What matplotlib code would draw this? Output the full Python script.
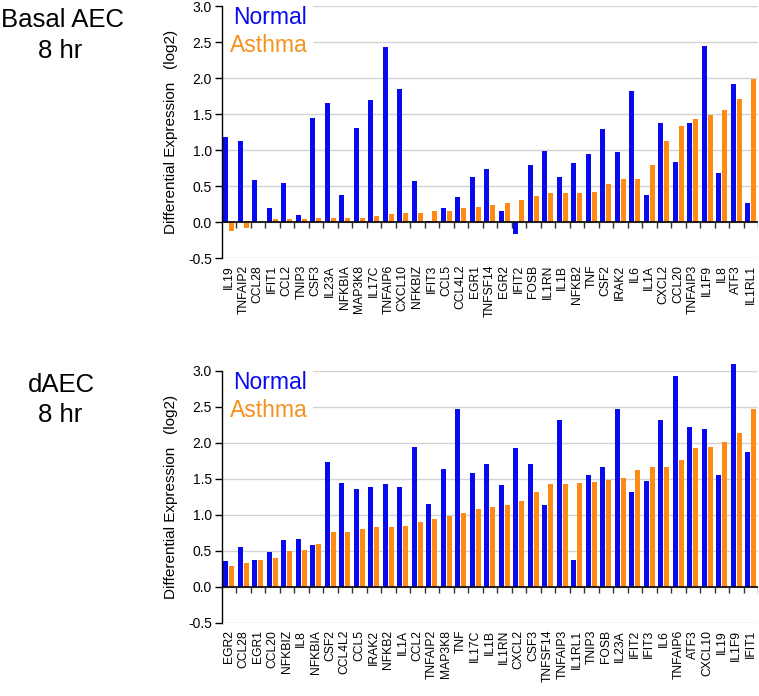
import matplotlib
matplotlib.use('Agg')
import matplotlib.pyplot as plt
import matplotlib.transforms as mtransforms
from matplotlib.patches import Rectangle
import numpy as np

plt.rcParams['font.family'] = ['Liberation Sans', 'DejaVu Sans']

# ---------------- data ----------------
basal_genes = ["IL19", "TNFAIP2", "CCL28", "IFIT1", "CCL2", "TNIP3", "CSF3", "IL23A",
               "NFKBIA", "MAP3K8", "IL17C", "TNFAIP6", "CXCL10", "NFKBIZ", "IFIT3",
               "CCL5", "CCL4L2", "EGR1", "TNFSF14", "EGR2", "IFIT2", "FOSB", "IL1RN",
               "IL1B", "NFKB2", "TNF", "CSF2", "IRAK2", "IL6", "IL1A", "CXCL2", "CCL20",
               "TNFAIP3", "IL1F9", "IL8", "ATF3", "IL1RL1"]
basal_normal = [1.18, 1.13, 0.58, 0.19, 0.54, 0.10, 1.45, 1.65, 0.38, 1.30, 1.70, 2.43,
                1.85, 0.57, 0.02, 0.19, 0.35, 0.62, 0.74, 0.15, -0.17, 0.79, 0.98, 0.62,
                0.82, 0.95, 1.29, 0.97, 1.82, 0.37, 1.37, 0.83, 1.37, 2.44, 0.68, 1.92, 0.26]
basal_asthma = [-0.13, -0.09, 0.00, 0.04, 0.04, 0.04, 0.05, 0.06, 0.06, 0.06, 0.08, 0.11,
                0.12, 0.12, 0.15, 0.15, 0.19, 0.21, 0.24, 0.26, 0.31, 0.36, 0.40, 0.40,
                0.40, 0.42, 0.53, 0.60, 0.60, 0.79, 1.12, 1.33, 1.43, 1.49, 1.55, 1.71, 1.98]

daec_genes = ["EGR2", "CCL28", "EGR1", "CCL20", "NFKBIZ", "IL8", "NFKBIA", "CSF2", "CCL4L2",
              "CCL5", "IRAK2", "NFKB2", "IL1A", "CCL2", "TNFAIP2", "MAP3K8", "TNF", "IL17C",
              "IL1B", "IL1RN", "CXCL2", "CSF3", "TNFSF14", "TNFAIP3", "IL1RL1", "TNIP3",
              "FOSB", "IL23A", "IFIT2", "IFIT3", "IL6", "TNFAIP6", "ATF3", "CXCL10", "IL19",
              "IL1F9", "IFIT1"]
daec_normal = [0.36, 0.56, 0.38, 0.48, 0.65, 0.67, 0.58, 1.74, 1.45, 1.36, 1.39, 1.43,
               1.39, 1.95, 1.15, 1.64, 2.47, 1.59, 1.71, 1.42, 1.93, 1.71, 1.14, 2.32,
               0.38, 1.55, 1.67, 2.47, 1.32, 1.47, 2.32, 2.93, 2.22, 2.20, 1.56, 3.10, 1.87]
daec_asthma = [0.29, 0.34, 0.38, 0.40, 0.50, 0.52, 0.60, 0.76, 0.77, 0.81, 0.835, 0.835,
               0.845, 0.90, 0.94, 0.98, 1.03, 1.08, 1.11, 1.135, 1.19, 1.32, 1.43, 1.43,
               1.44, 1.46, 1.49, 1.51, 1.62, 1.66, 1.66, 1.76, 1.93, 1.95, 2.02, 2.14, 2.47]

y_ticks = [-0.5, 0.0, 0.5, 1.0, 1.5, 2.0, 2.5, 3.0]

BLUE = '#0a0aee'
ORANGE = '#ff8a14'
ORANGE_TXT = '#f5921e'

W, H = 759, 696
fig = plt.figure(figsize=(W / 100, H / 100), dpi=100)


def px_ax(l, t, r, b):
    return [l / W, 1 - b / H, (r - l) / W, (b - t) / H]


def draw(ax, genes, normal, asthma):
    n = len(genes)
    x = np.arange(n)
    ax.set_xlim(-0.5, n - 0.5)
    ax.set_ylim(-0.5, 3.0)
    ax.set_axisbelow(True)
    ax.yaxis.grid(True, color='#d3d3d3', lw=1.0, zorder=0)
    ax.bar(x - 0.21, normal, 0.37, color=BLUE, zorder=2, clip_on=False)
    ax.bar(x + 0.21, asthma, 0.37, color=ORANGE, zorder=2, clip_on=False)
    ax.axhline(0, color='black', lw=1.2, zorder=3)
    ax.vlines(np.arange(1, n + 1) - 0.5, -0.09, 0, color='#333333', lw=1.0, zorder=3)
    for s in ['top', 'right', 'bottom']:
        ax.spines[s].set_visible(False)
    ax.spines['left'].set_color('black')
    ax.spines['left'].set_linewidth(1.0)
    ax.set_yticks(y_ticks)
    ax.set_yticklabels([f'{v:.1f}' for v in y_ticks])
    ax.tick_params(axis='y', length=4.7, width=1, pad=2.2, labelsize=10)
    ax.set_xticks(x)
    ax.set_xticklabels(genes, rotation=90, fontsize=8.7)
    ax.tick_params(axis='x', length=0, pad=5)

    trans = mtransforms.blended_transform_factory(ax.transAxes, ax.transData)
    ax.add_patch(Rectangle((0.0, 2.3), 0.17, 0.75, transform=trans, facecolor='white',
                           edgecolor='none', zorder=1, clip_on=False))
    ax.text(0.0214, 2.75, 'Normal', transform=trans, color=BLUE, fontsize=16.5,
            ha='left', va='baseline', zorder=4)
    ax.text(0.0158, 2.36, 'Asthma', transform=trans, color=ORANGE_TXT, fontsize=16.5,
            ha='left', va='baseline', zorder=4)


ax1 = fig.add_axes(px_ax(221.5, 6, 758, 258))
draw(ax1, basal_genes, basal_normal, basal_asthma)
ax2 = fig.add_axes(px_ax(221.5, 371, 758, 623))
draw(ax2, daec_genes, daec_normal, daec_asthma)


def ftext(xp, yp, s, **kw):
    fig.text(xp / W, 1 - yp / H, s, **kw)


ftext(62.5, 27, 'Basal AEC', fontsize=18.5, ha='center', va='baseline')
ftext(60, 58, '8 hr', fontsize=18.5, ha='center', va='baseline')
ftext(61, 392, 'dAEC', fontsize=18.5, ha='center', va='baseline')
ftext(60, 422, '8 hr', fontsize=18.5, ha='center', va='baseline')

ftext(171, 132, 'Differential Expression   (log2)', fontsize=11, rotation=90,
      ha='center', va='center')
ftext(171, 497, 'Differential Expression   (log2)', fontsize=11, rotation=90,
      ha='center', va='center')

fig.savefig('out.png', dpi=100)
